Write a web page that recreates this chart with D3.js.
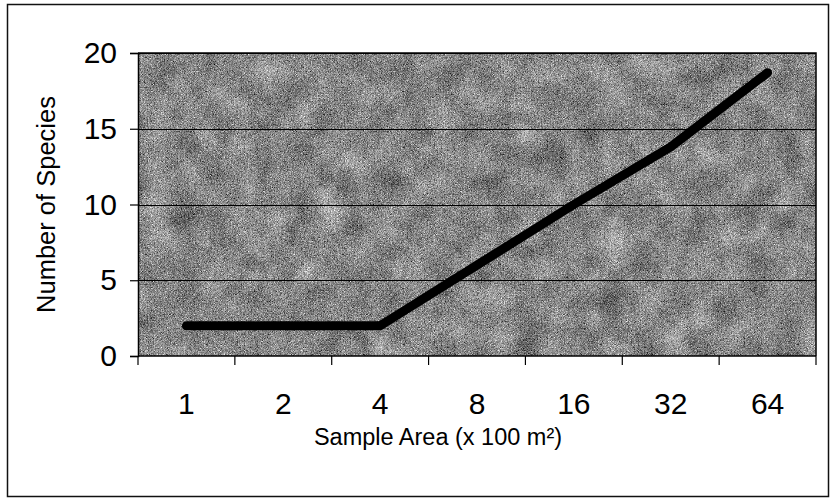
<!DOCTYPE html>
<html>
<head>
<meta charset="utf-8">
<script src="https://cdn.jsdelivr.net/npm/d3@7"></script>
<style>
  html, body { margin: 0; padding: 0; background: #fff; }
  svg { display: block; }
  text { font-family: "Liberation Sans", Arial, sans-serif; fill: #000; }
</style>
</head>
<body>
<svg id="chart" width="831" height="500"></svg>
<script>
const categories = ["1", "2", "4", "8", "16", "32", "64"];
const species = [2, 2, 2, 6, 10, 13.8, 18.7];
const yTicks = [0, 5, 10, 15, 20];
const xTitle = "Sample Area (x 100 m\u00B2)";
const yTitle = "Number of Species";

const svg = d3.select("#chart");
const plot = { left: 138, right: 816, top: 53, bottom: 356 };

const x = d3.scaleBand().domain(categories).range([plot.left, plot.right]).padding(0);
const y = d3.scaleLinear().domain([0, 20]).range([plot.bottom, plot.top]);

// grainy halftone-like texture filter
const grayOpaque = "0.33 0.33 0.33 0 0  0.33 0.33 0.33 0 0  0.33 0.33 0.33 0 0  0 0 0 0 1";
const defs = svg.append("defs");
const f = defs.append("filter").attr("id", "grain")
  .attr("x", 0).attr("y", 0).attr("width", "100%").attr("height", "100%")
  .attr("color-interpolation-filters", "sRGB");
f.append("feTurbulence").attr("type", "fractalNoise").attr("baseFrequency", "1.3")
  .attr("numOctaves", 1).attr("seed", 3).attr("result", "fineRaw");
f.append("feColorMatrix").attr("in", "fineRaw").attr("type", "matrix")
  .attr("values", grayOpaque).attr("result", "fine");
f.append("feTurbulence").attr("type", "fractalNoise").attr("baseFrequency", "0.035")
  .attr("numOctaves", 2).attr("seed", 7).attr("result", "coarseRaw");
f.append("feColorMatrix").attr("in", "coarseRaw").attr("type", "matrix")
  .attr("values", grayOpaque).attr("result", "coarse");
f.append("feComposite").attr("in", "fine").attr("in2", "coarse")
  .attr("operator", "arithmetic").attr("k1", 0).attr("k2", 1.0).attr("k3", 0.35).attr("k4", -0.17)
  .attr("result", "mix");
f.append("feComponentTransfer").attr("in", "mix")
  .call(s => {
    ["feFuncR", "feFuncG", "feFuncB"].forEach(n =>
      s.append(n).attr("type", "linear").attr("slope", 1.9).attr("intercept", -0.42));
    s.append("feFuncA").attr("type", "linear").attr("slope", 0).attr("intercept", 1);
  });

// outer frame
svg.append("rect").attr("x", 7.5).attr("y", 4.5).attr("width", 821).attr("height", 492)
  .attr("fill", "#fff").attr("stroke", "#111").attr("stroke-width", 1.5);

// plot background
svg.append("rect").attr("x", plot.left).attr("y", plot.top)
  .attr("width", plot.right - plot.left).attr("height", plot.bottom - plot.top)
  .attr("fill", "#8a8a8a");
svg.append("rect").attr("x", plot.left).attr("y", plot.top)
  .attr("width", plot.right - plot.left).attr("height", plot.bottom - plot.top)
  .attr("filter", "url(#grain)");

// gridlines
svg.append("g").selectAll("line").data(yTicks.filter(d => d > 0)).join("line")
  .attr("x1", plot.left).attr("x2", plot.right)
  .attr("y1", d => Math.round(y(d)) + 0.5).attr("y2", d => Math.round(y(d)) + 0.5)
  .attr("stroke", "#000").attr("stroke-width", 1);

// plot border (top/right)
svg.append("path")
  .attr("d", `M${plot.left},${plot.top}H${plot.right}V${plot.bottom}`)
  .attr("fill", "none").attr("stroke", "#000").attr("stroke-width", 1.5);

// y axis
const yAxis = d3.axisLeft(y).tickValues(yTicks).tickSize(8).tickPadding(13).tickFormat(d3.format("d"));
const gy = svg.append("g").attr("transform", `translate(${plot.left},0)`).call(yAxis);
gy.select(".domain").attr("stroke", "#000").attr("stroke-width", 1.5);
gy.selectAll(".tick line").attr("stroke", "#000").attr("stroke-width", 1.2);
gy.selectAll(".tick text").style("font-size", "30px").attr("fill", "#000")
  .style("font-family", "'Liberation Sans', Arial, sans-serif");

// x axis with ticks at band boundaries
const gx = svg.append("g").attr("transform", `translate(0,${plot.bottom})`);
gx.append("line").attr("x1", plot.left).attr("x2", plot.right).attr("y1", 0).attr("y2", 0)
  .attr("stroke", "#000").attr("stroke-width", 1.5);
const bounds = categories.map(c => x(c)).concat([plot.right]);
gx.selectAll("line.tk").data(bounds).join("line").attr("class", "tk")
  .attr("x1", d => d).attr("x2", d => d).attr("y1", 0).attr("y2", 9)
  .attr("stroke", "#000").attr("stroke-width", 1.2);
gx.selectAll("text.lbl").data(categories).join("text").attr("class", "lbl")
  .attr("x", d => x(d) + x.bandwidth() / 2).attr("y", 58)
  .attr("text-anchor", "middle").style("font-size", "30px").text(d => d);

// line
const line = d3.line().x((d, i) => x(categories[i]) + x.bandwidth() / 2).y(d => y(d));
svg.append("path").datum(species).attr("d", line)
  .attr("fill", "none").attr("stroke", "#000").attr("stroke-width", 9)
  .attr("stroke-linecap", "round").attr("stroke-linejoin", "round");

// titles
svg.append("text").attr("x", 438).attr("y", 445).attr("text-anchor", "middle")
  .style("font-size", "23.5px").text(xTitle);
svg.append("text").attr("transform", `translate(55,${(plot.top + plot.bottom) / 2}) rotate(-90)`)
  .attr("text-anchor", "middle").style("font-size", "25.5px").text(yTitle);
</script>
</body>
</html>
